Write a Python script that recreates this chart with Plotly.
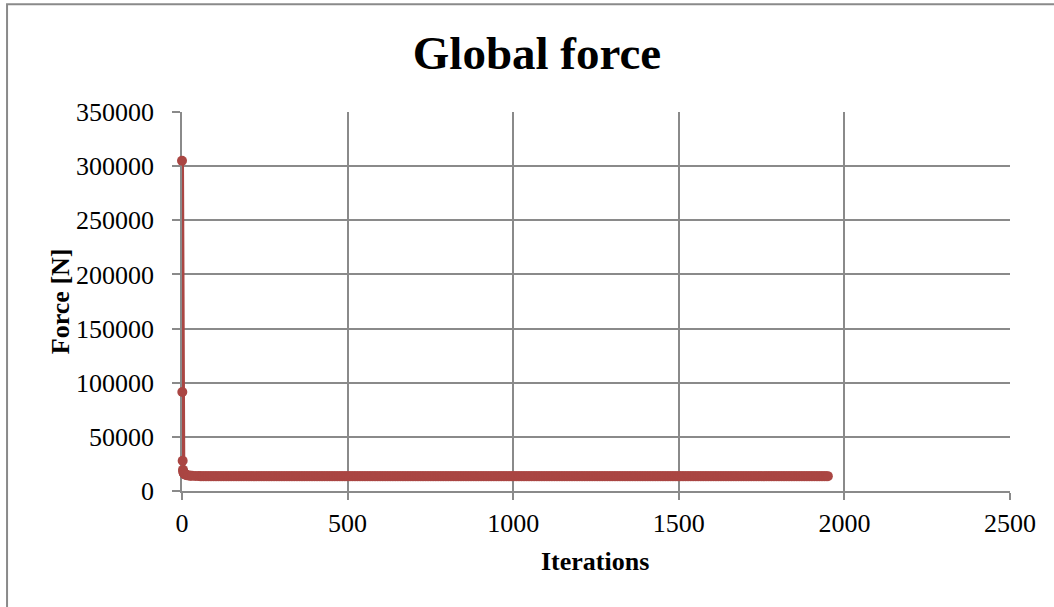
import plotly.graph_objects as go

# Global force history of the solver, per iteration
early_iterations = [0, 1, 2, 3, 4, 5, 6, 7, 8, 10, 12, 15, 20, 25, 30, 40, 50]
early_force = [305000, 91500, 28000, 19500, 17800, 16900, 16300, 15900, 15600,
               15200, 14900, 14600, 14300, 14100, 14000, 13850, 13750]

# Converged plateau up to the last iteration
plateau_iterations = list(range(55, 1951, 5))
plateau_force = 13700

iterations = early_iterations + plateau_iterations
force = early_force + [plateau_force] * len(plateau_iterations)

x_ticks = [0, 500, 1000, 1500, 2000, 2500]
y_ticks = [0, 50000, 100000, 150000, 200000, 250000, 300000, 350000]

SERIES = "#AA4643"
GRID = "#8A8A8A"
FONT = "Liberation Serif"

fig = go.Figure(
    go.Scatter(
        x=iterations,
        y=force,
        mode="lines+markers",
        line=dict(color=SERIES, width=4),
        marker=dict(color=SERIES, size=10),
        cliponaxis=False,
        showlegend=False,
        hoverinfo="x+y",
    )
)

fig.update_layout(
    width=1054,
    height=607,
    margin=dict(l=182, r=44, t=112, b=116),
    paper_bgcolor="white",
    plot_bgcolor="white",
    font=dict(family=FONT, size=26, color="black"),
    title=dict(
        text="<b>Global force</b>",
        font=dict(family=FONT, size=47, color="black"),
        x=0.5095, xref="container", xanchor="center",
        y=0.914, yref="container", yanchor="middle",
    ),
)

fig.update_xaxes(
    range=[0, 2500],
    tickvals=x_ticks,
    tickformat="d",
    showgrid=True, gridcolor=GRID, gridwidth=1.5,
    zeroline=False,
    showline=True, linecolor=GRID, linewidth=1.5,
    ticks="outside", ticklen=7, tickcolor=GRID, tickwidth=1.5,
    ticklabelstandoff=1,
    layer="below traces",
    tickfont=dict(family=FONT, size=26, color="black"),
)
fig.update_yaxes(
    range=[0, 350000],
    tickvals=y_ticks,
    tickformat="d",
    showgrid=True, gridcolor=GRID, gridwidth=1.5,
    zeroline=False,
    showline=True, linecolor=GRID, linewidth=1.5,
    ticks="outside", ticklen=8, tickcolor=GRID, tickwidth=1.5,
    ticklabelstandoff=13,
    layer="below traces",
    tickfont=dict(family=FONT, size=26, color="black"),
)

# Axis titles
fig.add_annotation(
    text="<b>Iterations</b>", xref="paper", yref="paper",
    x=0.4988, y=-0.187, xanchor="center", yanchor="middle",
    showarrow=False, font=dict(family=FONT, size=26, color="black"),
)
fig.add_annotation(
    text="<b>Force [N]</b>", xref="paper", yref="paper",
    x=-0.1473, y=0.501, xanchor="center", yanchor="middle", textangle=-90,
    showarrow=False, font=dict(family=FONT, size=26, color="black"),
)

# Chart area border
fig.add_shape(
    type="rect", xref="paper", yref="paper",
    x0=-0.2113, x1=1.08, y0=-0.36, y1=1.284,
    line=dict(color=GRID, width=2), fillcolor="rgba(0,0,0,0)", layer="below",
)

fig.write_html("out.html")
